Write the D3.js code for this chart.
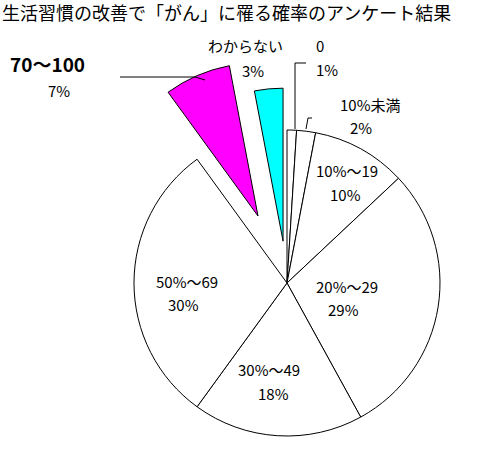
<!DOCTYPE html><html><head><meta charset="utf-8"><script src="https://cdn.jsdelivr.net/npm/d3@7"></script>
<style>body{margin:0;background:#fff}text{font-family:"Noto Sans CJK JP",sans-serif;fill:#000}</style></head><body>
<svg id="c" width="489" height="449"></svg>
<script>
const categories=["0","10%未満","10%～19","20%～29","30%～49","50%～69","70～100","わからない"];
const values=[1,2,10,29,18,30,7,3];
const pctLabels=["1%","2%","10%","29%","18%","30%","7%","3%"];
const colors=["#fff","#fff","#fff","#fff","#fff","#fff","#ff00ff","#00ffff"];
const offsets=[0,0,0,0,0,0,73,42];
const svg=d3.select("#c");
svg.append("text").attr("x",2).attr("y",20).attr("font-size",18).text("生活習慣の改善で「がん」に罹る確率のアンケート結果");
const cx=287,cy=283,R=153;
const pie=d3.pie().sort(null).value(d=>d)(values);
const arc=d3.arc().innerRadius(0).outerRadius(R);
const g=svg.append("g").attr("transform",`translate(${cx},${cy})`);
pie.forEach((p,i)=>{const m=(p.startAngle+p.endAngle)/2;
 g.append("path").attr("d",arc(p)).attr("fill",colors[i]).attr("stroke","#000").attr("stroke-width",1)
 .attr("transform",`translate(${offsets[i]*Math.sin(m)},${-offsets[i]*Math.cos(m)})`);});
const labs=[[316,52,316,76],[340,111,350,134],[316,177,330,201],[316,293,328,316],[238,376,258,400],[156,288,168,311],[10,72,48,97],[208,52,242,77]];
labs.forEach((l,i)=>{const big=i==6;
 svg.append("text").attr("x",l[0]).attr("y",l[1]).attr("font-size",big?19:15).attr("font-weight",big?"bold":"normal").text(categories[i]);
 svg.append("text").attr("x",l[2]).attr("y",l[3]).attr("font-size",15).text(pctLabels[i]);});
const leaders=[[[306,63],[295,63],[295,129]],[[312,118],[308,118],[306,129]],[[120,77],[195,77],[205,80]]];
leaders.forEach(p=>svg.append("path").attr("d",d3.line()(p)).attr("fill","none").attr("stroke","#000"));
</script></body></html>
